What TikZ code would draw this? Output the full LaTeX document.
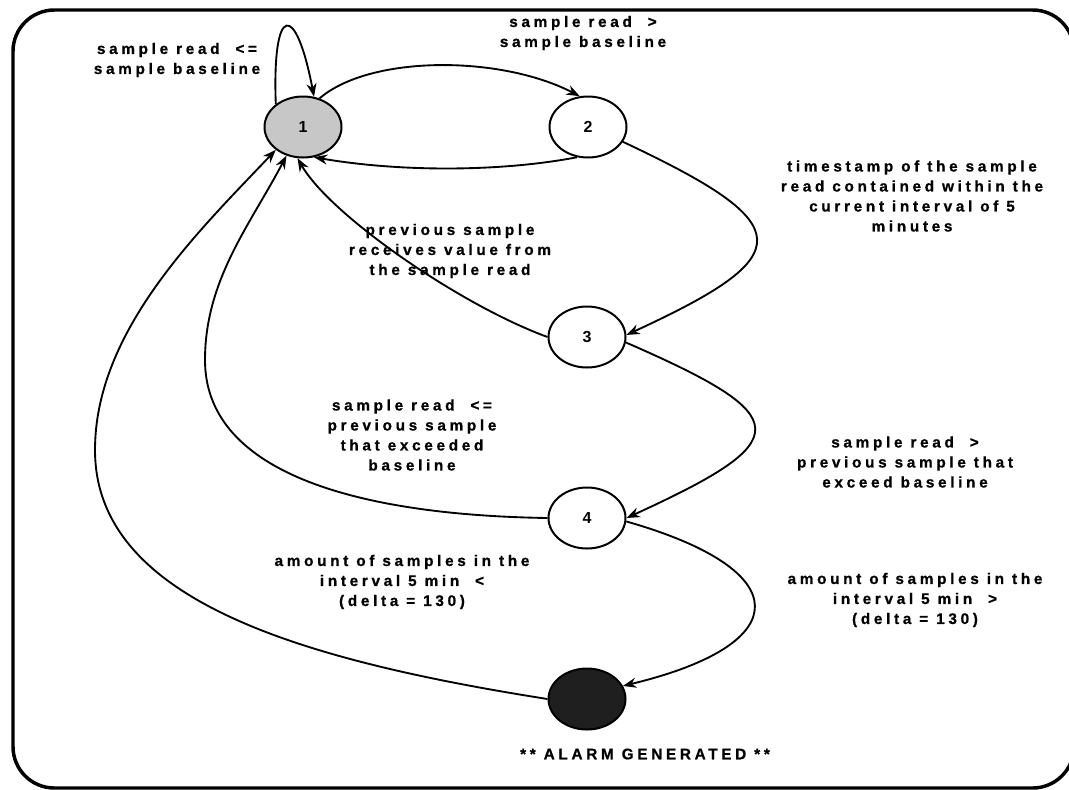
\documentclass[tikz,border=0pt]{standalone}
\usepackage{fontspec}
\setmainfont{Liberation Sans}
\newfontfamily\lblfont[LetterSpace=24,FakeBold=0.8]{Liberation Sans Bold}
\usetikzlibrary{shapes.geometric,arrows.meta}
\tikzset{
  stnode/.style={ellipse,draw,line width=1.5pt,minimum width=57.75pt,minimum height=45.75pt,inner sep=0pt,font=\bfseries\large},
  trans/.style={line width=1.4pt,-{Stealth[length=10pt,width=7.5pt]}},
  lbl/.style={align=center,font=\lblfont\fontsize{11.5}{15}\selectfont}
}
\begin{document}
\begin{tikzpicture}[x=0.75pt,y=-0.75pt]
\useasboundingbox (0,0) rectangle (1069,789);
\draw[line width=2.6pt,rounded corners=31pt] (13,10) rectangle (1074,788);

\node[stnode,fill=black!22] (n1) at (303,127) {1};
\node[stnode] (n2) at (588,127) {2};
\node[stnode] (n3) at (587,337) {3};
\node[stnode] (n4) at (587,518) {4};
\node[stnode,fill=black!88] (n5) at (587,699) {};

\draw[trans] (n1.140) .. controls (272,2) and (296,2) .. (n1.70);
\draw[trans] (n1.60) .. controls (370,55) and (500,55) .. (n2.105);
\draw[trans] (n2.250) .. controls (500,172) and (400,172) .. (n1.290);
\draw[trans] (n2.-23) .. controls (800,225) and (800,255) .. (n3.3);
\draw[trans] (n3.180) .. controls (460,305) and (330,215) .. (n1.260);
\draw[trans] (n3.-8) .. controls (797,417) and (797,440) .. (n4.0);
\draw[trans] (n4.180) .. controls (350,515) and (205,470) .. (205,360)
  .. controls (205,280) and (250,225) .. (n1.240);
\draw[trans] (n4.-5) .. controls (797,570) and (797,644) .. (n5.20);
\draw[trans] (n5.180) .. controls (300,660) and (95,600) .. (95,450)
  .. controls (95,330) and (200,230) .. (n1.220);

\node[lbl] (t11) at (177,60) {sample read \ <=\\sample baseline};
\node[lbl] (t12) at (583,33) {sample read \ >\\sample baseline};
\node[lbl] (t23) at (912,196) {timestamp of the sample\\read contained within the\\current interval of 5\\minutes};
\node[lbl] (t31) at (450,251) {previous sample\\receives value from\\the sample read};
\node[lbl] (t41) at (412,435) {sample read \ <=\\previous sample\\that exceeded\\baseline};
\node[lbl] (t34) at (905,462) {sample read \ >\\previous sample that\\exceed baseline};
\node[lbl] (t51) at (402,582) {amount of samples in the\\interval 5 min \ <\\(delta = 130)};
\node[lbl] (t45) at (915,600) {amount of samples in the\\interval 5 min \ >\\(delta = 130)};
\node[lbl] (alarm) at (645,754) {** ALARM GENERATED **};
\end{tikzpicture}
\end{document}
